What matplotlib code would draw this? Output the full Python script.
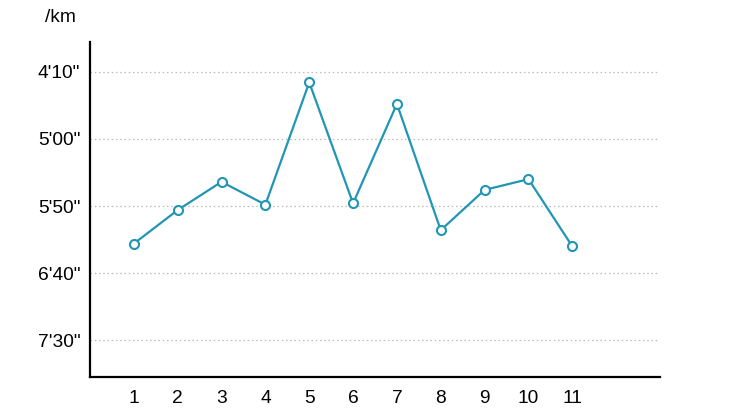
import matplotlib.pyplot as plt
from matplotlib.ticker import FuncFormatter

plt.rcParams["font.family"] = ["Liberation Sans", "DejaVu Sans"]

# split index and pace per km in seconds
splits = [1, 2, 3, 4, 5, 6, 7, 8, 9, 10, 11]
pace_sec = [378, 353, 332, 349, 258, 348, 274, 368, 338, 330, 380]
pace_ticks = [250, 300, 350, 400, 450]

LINE_COLOR = "#2196b3"


def fmt_pace(v, _pos=None):
    v = int(round(v))
    return f"{v // 60}'{v % 60:02d}\""


fig = plt.figure(figsize=(7.5, 4.13), dpi=100)
ax = fig.add_axes([0.12, 0.0864, 0.76, 0.8126])

ax.plot(splits, pace_sec, color=LINE_COLOR, linewidth=1.6,
        marker="o", markersize=6.5, markerfacecolor="white",
        markeredgecolor=LINE_COLOR, markeredgewidth=1.5, zorder=3)

ax.set_xlim(0, 13)
ax.set_ylim(477.5, 227.7)
ax.set_xticks(splits)
ax.set_yticks(pace_ticks)
ax.yaxis.set_major_formatter(FuncFormatter(fmt_pace))

ax.grid(axis="y", color="#bbbbbb", linestyle=(0, (1.2, 2.2)), linewidth=0.9)
ax.set_axisbelow(True)

for side in ("top", "right"):
    ax.spines[side].set_visible(False)
for side in ("left", "bottom"):
    ax.spines[side].set_linewidth(1.6)
    ax.spines[side].set_color("black")

ax.tick_params(axis="both", length=0, labelsize=13.8, colors="black")
ax.tick_params(axis="y", pad=7)
ax.tick_params(axis="x", pad=9)

fig.text(76 / 750, 1 - 18 / 413, "/km", ha="right", va="center", fontsize=13.8)

fig.savefig("out.png", dpi=100)
